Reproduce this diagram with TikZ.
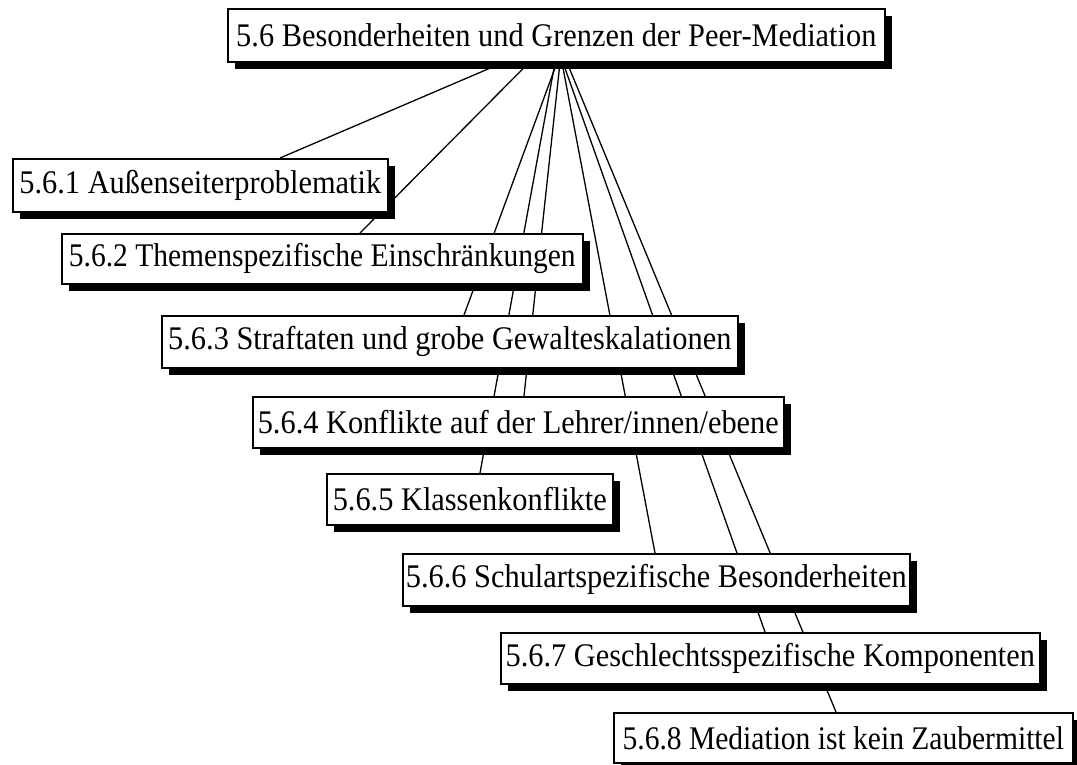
\documentclass[tikz,border=0pt]{standalone}
\usepackage{fontspec}
\setmainfont[FakeStretch=0.92]{Liberation Serif}
\usetikzlibrary{shadows,backgrounds}

\tikzset{
  topic/.style={
    draw=black, line width=1.6pt, fill=white,
    anchor=north west, inner sep=0pt,
    font=\fontsize{33}{38}\selectfont,
    drop shadow={shadow xshift=7pt, shadow yshift=-7pt, fill=black, opacity=1}
  },
  tighttopic/.style={topic, font=\fontsize{33}{38}\selectfont\addfontfeatures{FakeStretch=0.895}},
  link/.style={line width=1.3pt, draw=black}
}

\begin{document}
\begin{tikzpicture}[x=1pt, y=-1pt]
  \useasboundingbox (0,0) rectangle (1077,764);

  % outline boxes
  \node[topic, minimum width=657pt, minimum height=53pt] (root) at (227,8)
    {5.6 Besonderheiten und Grenzen der Peer-Mediation};
  \node[topic, minimum width=375pt, minimum height=53pt] (n1) at (12,158)
    {5.6.1 Außenseiterproblematik};
  \node[tighttopic, minimum width=521pt, minimum height=50pt] (n2) at (61,233)
    {5.6.2 Themenspezifische Einschränkungen};
  \node[topic, minimum width=576pt, minimum height=52pt] (n3) at (161,315)
    {5.6.3 Straftaten und grobe Gewalteskalationen};
  \node[topic, minimum width=531pt, minimum height=51pt] (n4) at (252,396)
    {5.6.4 Konflikte auf der Lehrer/innen/ebene};
  \node[topic, minimum width=286pt, minimum height=51pt] (n5) at (326,473)
    {5.6.5 Klassenkonflikte};
  \node[topic, minimum width=507pt, minimum height=52pt] (n6) at (402,553)
    {5.6.6 Schulartspezifische Besonderheiten};
  \node[topic, minimum width=539pt, minimum height=51pt] (n7) at (500,632)
    {5.6.7 Geschlechtsspezifische Komponenten};
  \node[tighttopic, minimum width=459pt, minimum height=50pt] (n8) at (613,712)
    {5.6.8 Mediation ist kein Zaubermittel};

  % white page and connectors, all behind the boxes
  \begin{scope}[on background layer]
    \fill[white] (0,0) rectangle (1077,764);
    \draw[link] ([xshift=276pt]root.south west) -- ([xshift=268pt]n1.north west);
    \draw[link] ([xshift=302pt]root.south west) -- ([xshift=299pt]n2.north west);
    \draw[link] ([xshift=330pt]root.south west) -- ([xshift=303pt]n3.north west);
    \draw[link] ([xshift=333pt]root.south west) -- ([xshift=272pt]n4.north west);
    \draw[link] ([xshift=328pt]root.south west) -- ([xshift=154pt]n5.north west);
    \draw[link] ([xshift=335pt]root.south west) -- ([xshift=253pt]n6.north west);
    \draw[link] ([xshift=336pt]root.south west) -- ([xshift=265pt]n7.north west);
    \draw[link] ([xshift=340pt]root.south west) -- ([xshift=223pt]n8.north west);
  \end{scope}
\end{tikzpicture}
\end{document}
